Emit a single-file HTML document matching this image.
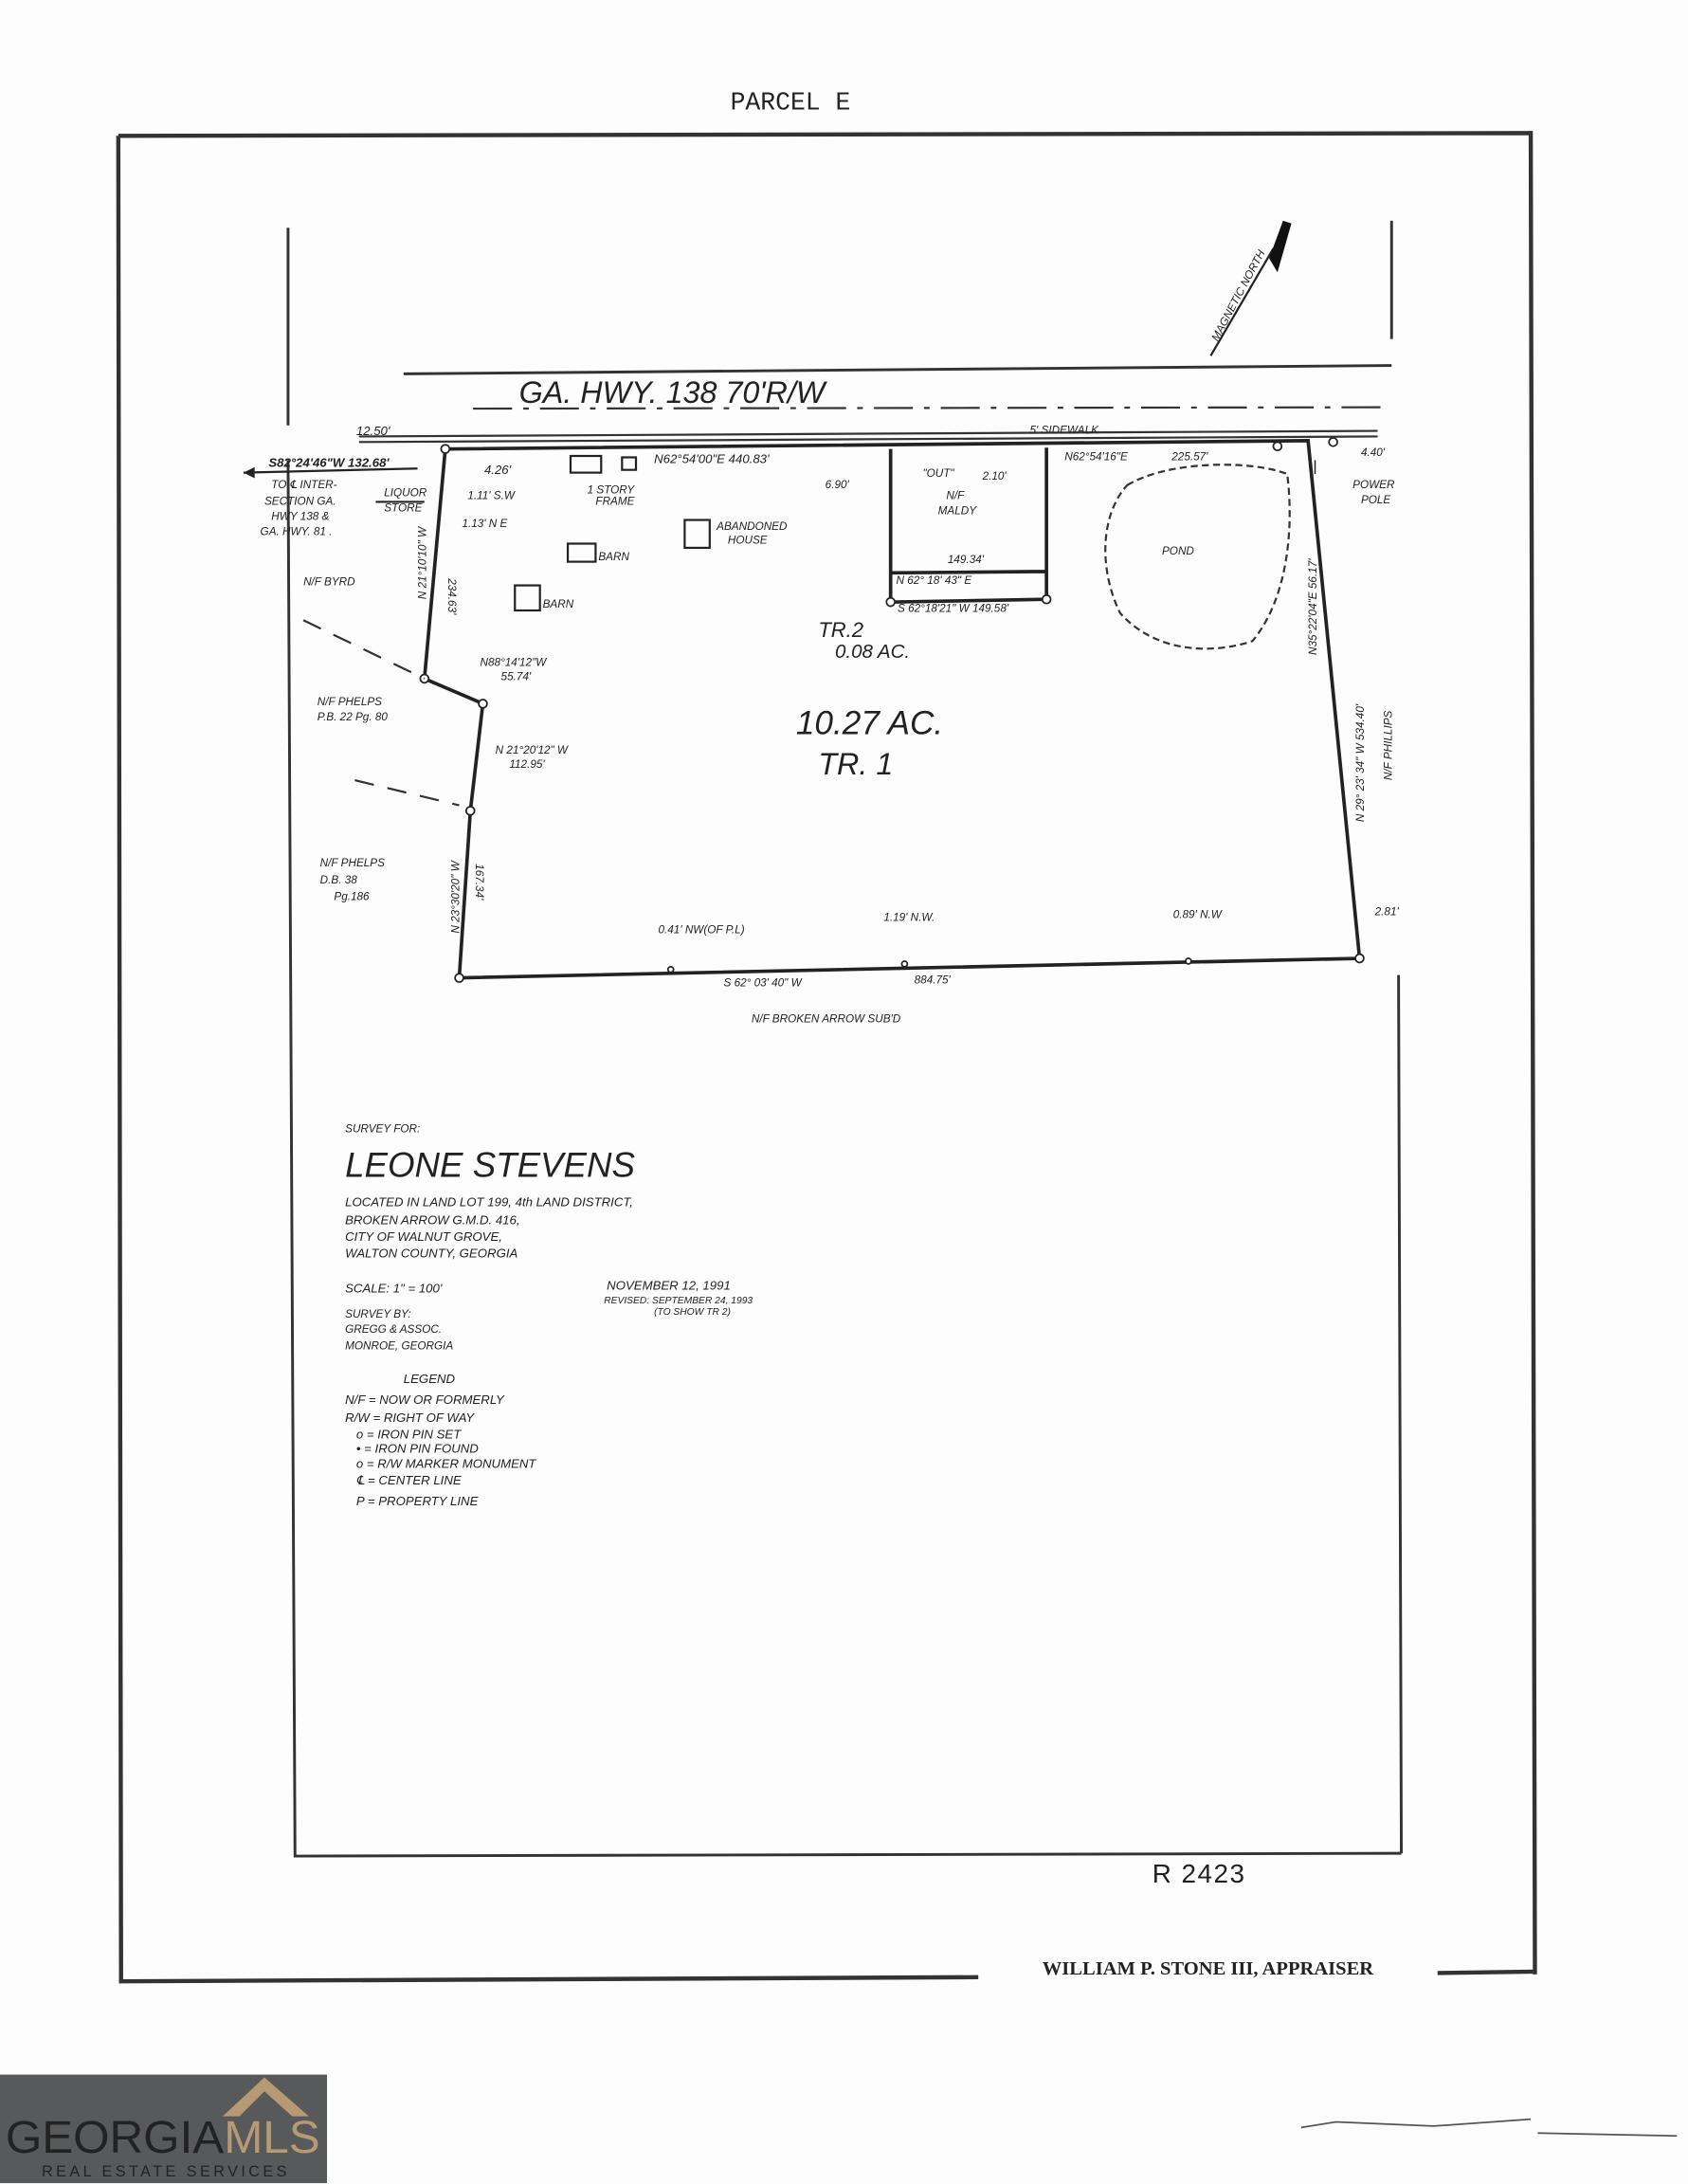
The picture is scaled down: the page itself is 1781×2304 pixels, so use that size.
<!DOCTYPE html>
<html><head><meta charset="utf-8"><style>
html,body{margin:0;padding:0;background:#fff;}
svg{display:block;}
text{font-family:"Liberation Sans",sans-serif;font-style:italic;fill:#222;}
.m{font-family:"Liberation Mono",monospace;font-style:normal;}
.s{font-size:8px;}
.t{font-size:9px;}
</style></head><body>
<svg width="1781" height="2304" viewBox="0 0 1213 1568" xmlns="http://www.w3.org/2000/svg">
<rect width="1213" height="1568" fill="#fdfdfd"/>
<text x="568" y="78" class="m" font-size="18" text-anchor="middle">PARCEL E</text>
<g stroke="#333" stroke-width="3" fill="none">
<path d="M85 97 L1100 95 L1103 1418"/>
<path d="M85 97 L87 1423 L703 1420"/>
<path d="M1033 1417 L1103 1416"/>
</g>
<text x="868" y="1418" font-family="Liberation Serif" font-weight="bold" font-size="14" text-anchor="middle" style="font-family:'Liberation Serif',serif;font-style:normal">WILLIAM P. STONE III, APPRAISER</text>
<g stroke="#333" stroke-width="2" fill="none">
<path d="M207 163 L207 305 M207 330 L212 1333 L1007 1331"/>
<path d="M1000 158 L1000 243 M1005 700 L1007 1331"/>
</g>
<text x="828" y="1352" font-size="19" style="font-style:normal;letter-spacing:1px">R 2423</text>
<path d="M870 255 L915 178" stroke="#222" stroke-width="1.5"/>
<path d="M912 185 L922 158 L928 160 L918 195 Z" fill="#111"/>
<text transform="translate(875 245) rotate(-62)" class="s">MAGNETIC NORTH</text>
<g stroke="#333" fill="none">
<path d="M290 268 L1000 262" stroke-width="2"/>
<path d="M340 293 L1000 292" stroke-width="1.5" stroke-dasharray="28 8 4 8"/>
<path d="M258 313 L990 309" stroke-width="1.5"/>
<path d="M258 317 L990 313" stroke-width="1.5"/>
</g>
<text x="373" y="289" font-size="22">GA. HWY. 138  70'R/W</text>
<g stroke="#222" stroke-width="2.5" fill="none">
<path d="M320 322 L940 316 L977 688 L330 702 L338 582 L347 505 L305 487 Z"/>
<path d="M640 322 L640 432 L752 430 L752 321 M640 411 L752 410"/>
</g>
<path d="M945 330 L945 340" stroke="#222"/>
<g fill="#fff" stroke="#222" stroke-width="1.2">
<circle cx="320" cy="322" r="3"/><circle cx="305" cy="487" r="3"/><circle cx="347" cy="505" r="3"/><circle cx="338" cy="582" r="3"/><circle cx="330" cy="702" r="3"/><circle cx="977" cy="688" r="3"/><circle cx="640" cy="432" r="3"/><circle cx="752" cy="430" r="3"/><circle cx="918" cy="320" r="3"/><circle cx="958" cy="317" r="3"/><circle cx="482" cy="696" r="2"/><circle cx="650" cy="692" r="2"/><circle cx="854" cy="690" r="2"/>
</g>
<path d="M810 348 C840 330 900 330 925 340 C930 380 925 430 900 460 C870 470 830 468 805 440 C790 410 790 370 810 348 Z" fill="none" stroke="#333" stroke-width="1.5" stroke-dasharray="5 3"/>
<text x="835" y="398" class="s">POND</text>
<g fill="none" stroke="#222" stroke-width="1.5">
<rect x="410" y="327" width="22" height="12"/><rect x="447" y="328" width="10" height="9"/><rect x="492" y="373" width="18" height="20"/><rect x="408" y="390" width="20" height="13"/><rect x="370" y="420" width="18" height="18"/>
<path d="M270 360 L305 360"/>
</g>
<g stroke="#333" stroke-width="1.5" stroke-dasharray="14 10" fill="none">
<path d="M218 445 L305 487"/><path d="M255 560 L330 578"/>
</g>
<text x="256" y="312" class="t">12.50'</text>
<text x="193" y="335" class="t" font-weight="bold">S82°24'46"W 132.68'</text>
<path d="M175 339 L300 336" stroke="#222" stroke-width="1.5"/><path d="M175 339 L183 335 L183 343Z" fill="#222"/>
<text x="195" y="350" class="s">TO ℄ INTER-</text>
<text x="190" y="362" class="s">SECTION GA.</text>
<text x="195" y="373" class="s">HWY 138 &amp;</text>
<text x="187" y="384" class="s">GA. HWY. 81 .</text>
<text x="276" y="356" class="s">LIQUOR</text><text x="276" y="367" class="s">STORE</text>
<text x="348" y="340" class="t">4.26'</text>
<text x="336" y="358" class="s">1.11' S.W</text>
<text x="332" y="378" class="s">1.13' N E</text>
<text x="422" y="354" class="s">1 STORY</text><text x="428" y="362" class="s">FRAME</text>
<text x="470" y="332" class="t">N62°54'00"E  440.83'</text>
<text x="515" y="380" class="s">ABANDONED</text><text x="523" y="390" class="s">HOUSE</text>
<text x="430" y="402" class="s">BARN</text>
<text x="390" y="436" class="s">BARN</text>
<text x="218" y="420" class="s">N/F BYRD</text>
<text transform="translate(306 430) rotate(-90)" class="s">N 21°10'10" W</text>
<text transform="translate(322 415) rotate(90)" class="s">234.63'</text>
<text x="345" y="478" class="s">N88°14'12"W</text><text x="360" y="488" class="s">55.74'</text>
<text x="228" y="506" class="s">N/F PHELPS</text><text x="228" y="517" class="s">P.B. 22  Pg. 80</text>
<text x="356" y="541" class="s">N 21°20'12" W</text><text x="366" y="551" class="s">112.95'</text>
<text x="230" y="622" class="s">N/F PHELPS</text><text x="230" y="634" class="s">D.B. 38</text><text x="240" y="646" class="s">Pg.186</text>
<text transform="translate(330 670) rotate(-90)" class="s">N 23°30'20" W</text>
<text transform="translate(342 620) rotate(90)" class="s">167.34'</text>
<text x="593" y="350" class="s">6.90'</text>
<text x="663" y="342" class="s">"OUT"</text><text x="706" y="344" class="s">2.10'</text>
<text x="680" y="358" class="s">N/F</text><text x="674" y="369" class="s">MALDY</text>
<text x="765" y="330" class="s">N62°54'16"E</text><text x="842" y="330" class="s">225.57'</text>
<text x="740" y="311" class="s">5' SIDEWALK</text>
<text x="681" y="404" class="s">149.34'</text>
<text x="644" y="419" class="s">N 62° 18' 43" E</text>
<text x="645" y="439" class="s">S 62°18'21" W   149.58'</text>
<text x="588" y="457" font-size="15">TR.2</text>
<text x="600" y="472" font-size="14">0.08 AC.</text>
<text x="572" y="527" font-size="24">10.27 AC.</text>
<text x="588" y="556" font-size="22">TR. 1</text>
<text x="978" y="327" class="s">4.40'</text>
<text x="972" y="350" class="s">POWER</text><text x="978" y="361" class="s">POLE</text>
<text transform="translate(946 470) rotate(-90)" class="s">N35°22'04"E  56.17'</text>
<text transform="translate(980 590) rotate(-90)" class="s">N 29° 23' 34" W   534.40'</text>
<text transform="translate(1000 560) rotate(-90)" class="s">N/F PHILLIPS</text>
<text x="988" y="657" class="s">2.81'</text>
<text x="473" y="670" class="s">0.41' NW(OF P.L)</text>
<text x="635" y="661" class="s">1.19' N.W.</text>
<text x="843" y="659" class="s">0.89' N.W</text>
<text x="520" y="708" class="s">S 62° 03' 40" W</text><text x="657" y="706" class="s">884.75'</text>
<text x="540" y="734" class="s">N/F  BROKEN  ARROW  SUB'D</text>
<text x="248" y="813" class="s">SURVEY FOR:</text>
<text x="248" y="845" font-size="25">LEONE   STEVENS</text>
<text x="248" y="866" class="t">LOCATED IN LAND LOT 199, 4th LAND DISTRICT,</text>
<text x="248" y="879" class="t">BROKEN ARROW G.M.D. 416,</text>
<text x="248" y="891" class="t">CITY OF WALNUT GROVE,</text>
<text x="248" y="903" class="t">WALTON COUNTY, GEORGIA</text>
<text x="248" y="928" class="t">SCALE: 1" = 100'</text>
<text x="436" y="926" class="t">NOVEMBER 12, 1991</text>
<text x="434" y="936" font-size="7">REVISED: SEPTEMBER 24, 1993</text>
<text x="470" y="944" font-size="7">(TO SHOW TR 2)</text>
<text x="248" y="946" class="s">SURVEY BY:</text>
<text x="248" y="957" class="s">GREGG &amp; ASSOC.</text>
<text x="248" y="969" class="s">MONROE, GEORGIA</text>
<text x="290" y="993" class="t">LEGEND</text>
<text x="248" y="1008" class="t">N/F  =  NOW OR FORMERLY</text>
<text x="248" y="1021" class="t">R/W  =  RIGHT OF WAY</text>
<text x="256" y="1033" class="t">o    =  IRON PIN SET</text>
<text x="256" y="1043" class="t">•    =  IRON PIN FOUND</text>
<text x="256" y="1054" class="t">o    =  R/W MARKER MONUMENT</text>
<text x="256" y="1066" class="t">℄    =  CENTER LINE</text>
<text x="256" y="1081" class="t">P     =  PROPERTY LINE</text>
<path d="M935 1528 L960 1524 L1030 1527 L1100 1522 M1105 1532 L1205 1534" stroke="#555" stroke-width="1.2" fill="none"/>
<rect x="0" y="1490" width="235" height="78" fill="#58595b"/>
<path d="M160 1520 L190 1492 L222 1520 L210 1520 L190 1502 L172 1520 Z" fill="#b59a73"/>
<text x="4" y="1546" font-size="33" textLength="226" lengthAdjust="spacingAndGlyphs" style="font-style:normal" fill="#fff">GEORGIA<tspan fill="#b59a73">MLS</tspan></text>
<text x="30" y="1563" font-size="11" textLength="176" style="font-style:normal" fill="#b59a73">REAL ESTATE SERVICES</text>
</svg>
</body></html>
